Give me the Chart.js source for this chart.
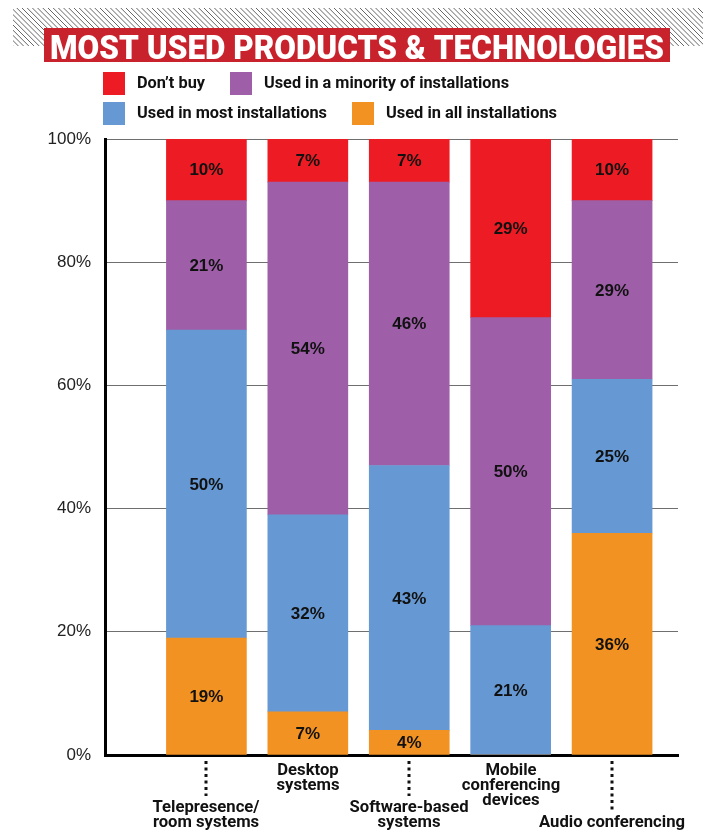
<!DOCTYPE html>
<html>
<head>
<meta charset="utf-8">
<script src="https://cdn.jsdelivr.net/npm/chart.js@4/dist/chart.umd.min.js"></script>
<style>
  html, body { margin: 0; padding: 0; background: #fff; }
  #wrap { width: 715px; height: 832px; }
</style>
</head>
<body>
<div id="wrap"><canvas id="c" width="715" height="832"></canvas></div>
<script>
// Survey: share of respondents by usage level, per product category
const categories = [
  ['Telepresence/', 'room systems'],
  ['Desktop', 'systems'],
  ['Software-based', 'systems'],
  ['Mobile', 'conferencing', 'devices'],
  ['Audio conferencing']
];
const allInstallations      = [19, 7, 4, 0, 36];
const mostInstallations     = [50, 32, 43, 21, 25];
const minorityInstallations = [21, 54, 46, 50, 29];
const dontBuy               = [10, 7, 7, 29, 10];
const yTicks = [0, 20, 40, 60, 80, 100];
const seriesLabels = ["Don\u2019t buy", 'Used in a minority of installations', 'Used in most installations', 'Used in all installations'];
const titleText = 'MOST USED PRODUCTS & TECHNOLOGIES';

const COLORS = {
  red: '#ED1C24',
  purple: '#9E5FA8',
  blue: '#6699D3',
  orange: '#F29222'
};
const HEAVY = 'Roboto, "Liberation Sans", Arial, sans-serif';

function toPoints(arr) { return arr.map((v, i) => ({ x: i, y: v })); }

// text squeezed/stretched horizontally to a given width
function fitText(ctx, text, x, y, width, align) {
  const w = ctx.measureText(text).width;
  const s = width / w;
  ctx.save();
  ctx.textAlign = 'left';
  const left = align === 'center' ? x - width / 2 : x;
  ctx.translate(left, y);
  ctx.scale(s, 1);
  ctx.fillText(text, 0, 0);
  ctx.restore();
}

// text drawn with a fixed horizontal scaling factor
function scaledText(ctx, text, x, y, sx) {
  ctx.save();
  ctx.textAlign = 'center';
  ctx.translate(x, y);
  ctx.scale(sx, 1);
  ctx.fillText(text, 0, 0);
  ctx.restore();
}

const headerPlugin = {
  id: 'header',
  beforeDraw(chart) {
    const ctx = chart.ctx;
    ctx.save();
    // hatched band
    ctx.beginPath();
    ctx.rect(13, 8, 690, 38);
    ctx.clip();
    ctx.strokeStyle = '#666';
    ctx.lineWidth = 1;
    for (let x0 = -30; x0 < 710; x0 += 5.2) {
      ctx.beginPath();
      ctx.moveTo(x0, 8);
      ctx.lineTo(x0 + 38, 46);
      ctx.stroke();
    }
    ctx.restore();

    // title box
    ctx.save();
    ctx.fillStyle = '#C8232C';
    ctx.fillRect(44, 28, 626, 34);
    ctx.fillStyle = '#fff';
    ctx.font = '900 33px ' + HEAVY;
    ctx.textBaseline = 'alphabetic';
    fitText(ctx, titleText, 357, 58.5, 614, 'center');
    ctx.restore();

    // legend (two rows)
    const items = [
      { label: seriesLabels[0], color: COLORS.red,    x: 103, y: 72,  tw: 68 },
      { label: seriesLabels[1], color: COLORS.purple, x: 230, y: 72,  tw: 245 },
      { label: seriesLabels[2], color: COLORS.blue,   x: 103, y: 102, tw: 190 },
      { label: seriesLabels[3], color: COLORS.orange, x: 352, y: 102, tw: 171 }
    ];
    ctx.save();
    ctx.font = 'bold 17px ' + HEAVY;
    ctx.textBaseline = 'middle';
    items.forEach(it => {
      ctx.fillStyle = it.color;
      ctx.fillRect(it.x, it.y, 22, 23);
      ctx.fillStyle = '#111';
      fitText(ctx, it.label, it.x + 34, it.y + 12, it.tw, 'left');
    });
    ctx.restore();
  }
};

const valueLabelPlugin = {
  id: 'valueLabels',
  afterDatasetsDraw(chart) {
    const ctx = chart.ctx;
    ctx.save();
    ctx.font = 'bold 17px "Liberation Sans", Arial, sans-serif';
    ctx.fillStyle = '#111';
    ctx.textAlign = 'center';
    ctx.textBaseline = 'middle';
    chart.data.datasets.forEach((ds, di) => {
      const meta = chart.getDatasetMeta(di);
      meta.data.forEach((bar, i) => {
        const v = ds.data[i].y;
        if (!v) return;
        const yMid = (bar.y + bar.base) / 2;
        ctx.fillText(v + '%', bar.x, yMid + 1);
      });
    });
    ctx.restore();
  }
};

const categoryLabelPlugin = {
  id: 'categoryLabels',
  afterDraw(chart) {
    const ctx = chart.ctx;
    const xs = chart.scales.x;
    const lineH = 15;
    ctx.save();
    ctx.font = 'bold 16px ' + HEAVY;
    ctx.fillStyle = '#111';
    ctx.textBaseline = 'middle';
    categories.forEach((lines, i) => {
      const cx = Math.round(xs.getPixelForValue(i));
      const low = i % 2 === 0;
      let firstY;
      if (low) {
        firstY = 823 - lineH * (lines.length - 1);
        // dotted leader
        ctx.save();
        ctx.strokeStyle = '#111';
        ctx.lineWidth = 3;
        ctx.setLineDash([3, 3.5]);
        ctx.beginPath();
        ctx.moveTo(cx, 761);
        ctx.lineTo(cx, firstY - 12);
        ctx.stroke();
        ctx.restore();
      } else {
        firstY = 771;
      }
      lines.forEach((t, k) => scaledText(ctx, t, cx, firstY + k * lineH, 1.04));
    });
    ctx.restore();
  }
};

const datasets = [
  { label: seriesLabels[3], data: toPoints(allInstallations),      backgroundColor: COLORS.orange },
  { label: seriesLabels[2], data: toPoints(mostInstallations),     backgroundColor: COLORS.blue },
  { label: seriesLabels[1], data: toPoints(minorityInstallations), backgroundColor: COLORS.purple },
  { label: seriesLabels[0], data: toPoints(dontBuy),               backgroundColor: COLORS.red }
];

new Chart(document.getElementById('c'), {
  type: 'bar',
  data: { datasets },
  options: {
    responsive: false,
    devicePixelRatio: 1,
    animation: false,
    layout: { padding: { top: 139, right: 37, left: 0, bottom: 0 } },
    datasets: { bar: { barThickness: 80, borderWidth: 0 } },
    plugins: { legend: { display: false }, tooltip: { enabled: false }, title: { display: false } },
    scales: {
      x: {
        type: 'linear',
        stacked: true,
        offset: false,
        min: -1,
        max: 4.65,
        ticks: { display: false },
        grid: { display: false },
        border: { display: true, color: '#000', width: 3 },
        afterFit(s) { s.height = 77; }
      },
      y: {
        stacked: true,
        min: 0,
        max: 100,
        afterBuildTicks(s) { s.ticks = yTicks.map(v => ({ value: v })); },
        ticks: {
          callback: v => v + '%',
          font: { family: '"Liberation Sans", Arial, sans-serif', size: 17 },
          color: '#222',
          padding: 14
        },
        grid: {
          color: ctx => (ctx.tick && ctx.tick.value === 0) ? 'rgba(0,0,0,0)' : '#6f6f6f',
          lineWidth: 1,
          drawTicks: false
        },
        border: { display: true, color: '#000', width: 3 },
        afterFit(s) { s.width = 105; }
      }
    }
  },
  plugins: [headerPlugin, valueLabelPlugin, categoryLabelPlugin]
});
</script>
</body>
</html>
